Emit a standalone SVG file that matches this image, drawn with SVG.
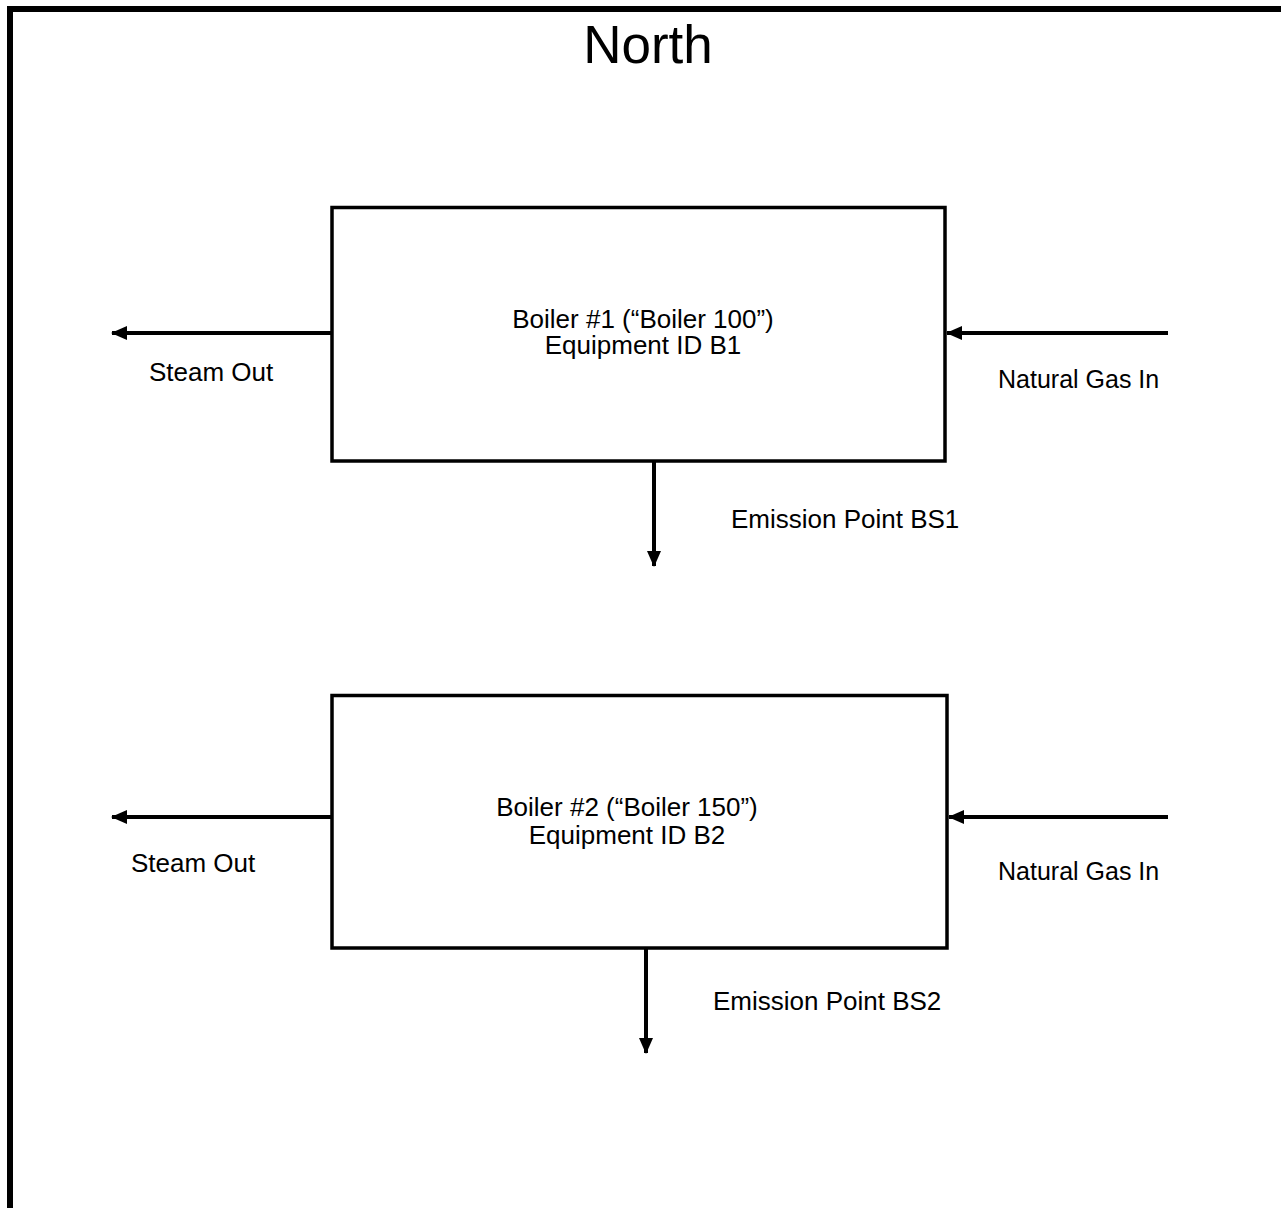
<svg xmlns="http://www.w3.org/2000/svg" width="1281" height="1208" viewBox="0 0 1281 1208">
<style>
text{font-family:"Liberation Sans",Arial,sans-serif;fill:#000}
.lbl{font-size:26px}
.sm{font-size:25px}
.box{fill:#fff;stroke:#000;stroke-width:3.5}
.conn line{stroke:#000;stroke-width:4}
</style>
<defs>
<marker id="ah" markerWidth="16" markerHeight="14" refX="15" refY="7" orient="auto" markerUnits="userSpaceOnUse">
<path d="M0,0 L16,7 L0,14 Z" fill="#000"/>
</marker>
</defs>
<rect width="1281" height="1208" fill="#fff"/>
<g id="frame">
<path d="M10,1208 V9 H1281" fill="none" stroke="#000" stroke-width="6"/>
<text x="648" y="63" font-size="53" text-anchor="middle">North</text>
</g>
<g id="boiler1">
<rect class="box" x="332" y="207.5" width="613" height="253.5"/>
<text class="lbl" x="643" y="328" text-anchor="middle">Boiler #1 (“Boiler 100”)</text>
<text class="lbl" x="643" y="354" text-anchor="middle">Equipment ID B1</text>
</g>
<g id="boiler2">
<rect class="box" x="332" y="695.5" width="615" height="252.5"/>
<text class="lbl" x="627" y="816" text-anchor="middle">Boiler #2 (“Boiler 150”)</text>
<text class="lbl" x="627" y="844" text-anchor="middle">Equipment ID B2</text>
</g>
<g id="connectors" class="conn">
<line x1="332" y1="333" x2="112" y2="333" marker-end="url(#ah)"/>
<line x1="1168" y1="333" x2="947" y2="333" marker-end="url(#ah)"/>
<line x1="654" y1="461" x2="654" y2="566" marker-end="url(#ah)"/>
<line x1="332" y1="817" x2="112" y2="817" marker-end="url(#ah)"/>
<line x1="1168" y1="817" x2="949" y2="817" marker-end="url(#ah)"/>
<line x1="646" y1="948" x2="646" y2="1053" marker-end="url(#ah)"/>
</g>
<g id="labels">
<text class="lbl" x="149" y="381">Steam Out</text>
<text class="sm" x="998" y="388">Natural Gas In</text>
<text class="lbl" x="731" y="528">Emission Point BS1</text>
<text class="lbl" x="131" y="872">Steam Out</text>
<text class="sm" x="998" y="880">Natural Gas In</text>
<text class="lbl" x="713" y="1010">Emission Point BS2</text>
</g>
</svg>
